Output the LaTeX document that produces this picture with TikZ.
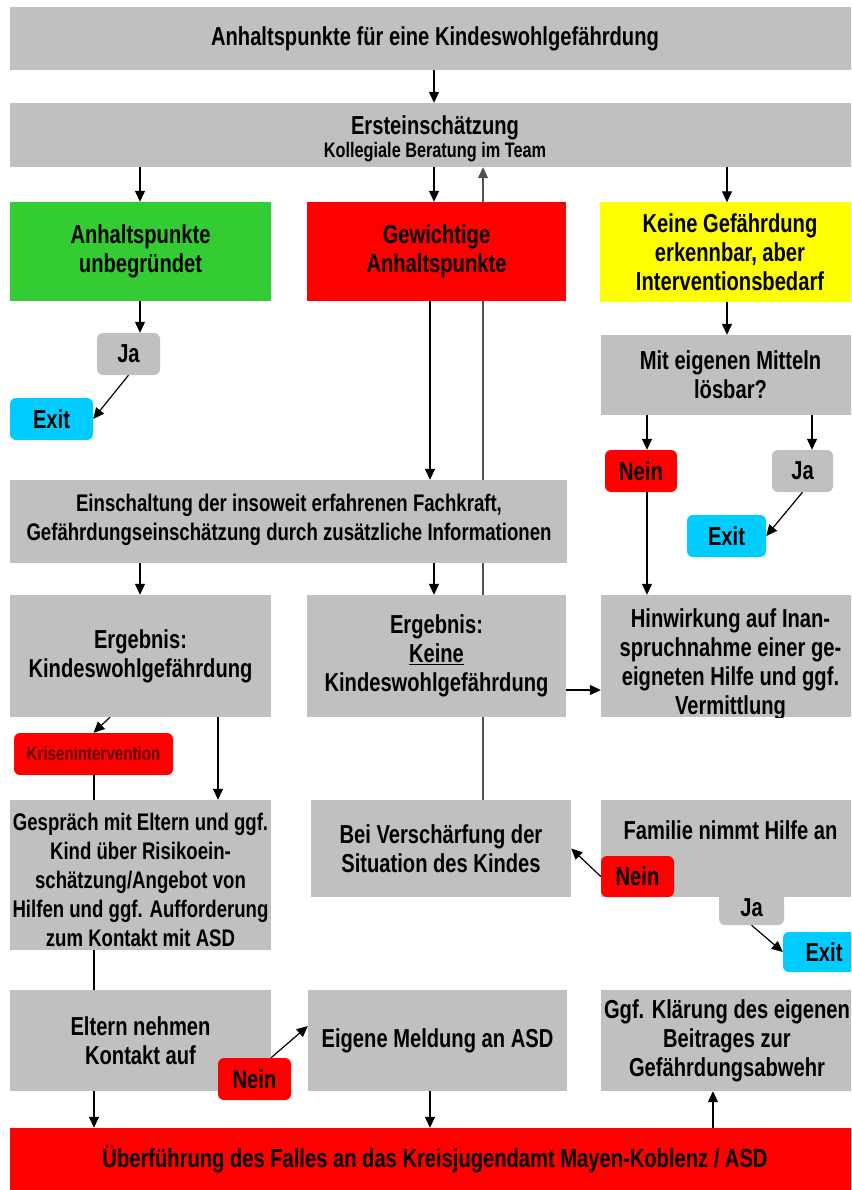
\documentclass[tikz,border=0pt]{standalone}
\usepackage{fontspec}
\setmainfont{Liberation Sans}[FakeStretch=0.775]
\usetikzlibrary{arrows.meta,backgrounds}
\definecolor{bgray}{HTML}{C0C0C0}
\definecolor{bgreen}{HTML}{33CC33}
\definecolor{bred}{HTML}{FF0000}
\definecolor{byellow}{HTML}{FFFF00}
\definecolor{bcyan}{HTML}{00CCFF}
\definecolor{kristext}{HTML}{5A0000}
\definecolor{upline}{HTML}{505050}
\begin{document}
\begin{tikzpicture}[x=1pt,y=-1pt,
  box/.style={fill=bgray, inner sep=0pt, align=center, text=black,
    font=\bfseries\fontsize{26}{29}\selectfont},
  rbox/.style={box, rounded corners=6pt},
  txt/.style={inner sep=0pt, align=center, text=black,
    font=\bfseries\fontsize{26}{29}\selectfont},
  smalltxt/.style={txt, font=\bfseries\fontsize{24}{29}\selectfont},
  arr/.style={-{Triangle[length=11pt,width=10pt]}, line width=1.2pt},
  ln/.style={line width=1.2pt},
]
\useasboundingbox (0,0) rectangle (851,1190);
\clip (0,0) rectangle (851,1190);
% helper coordinates
\foreach \v in {94,110,140,218,271,430,434,483,647,690,713,727,812,1026}{
  \coordinate (x\v) at (\v,0);
  \coordinate (y\v) at (0,\v);
}
% boxes
\node[box, minimum width=850, minimum height=63] (top) at (435,38.5) {Anhaltspunkte für eine Kindeswohlgefährdung};
\node[box, minimum width=850, minimum height=64] (erst) at (435,135) {};
\node[txt] (ersttext) at (435,139)
  {Ersteinschätzung\\[-6pt]{\fontsize{21}{24}\selectfont Kollegiale Beratung im Team}};
\node[box, fill=bgreen, minimum width=261, minimum height=99] (green) at (140.5,251.5) {Anhaltspunkte\\unbegründet};
\node[box, fill=bred, minimum width=259, minimum height=99] (redG) at (436.5,251.5) {Gewichtige\\Anhaltspunkte};
\node[box, fill=byellow, minimum width=260, minimum height=99] (yellow) at (730,252) {Keine Gefährdung\\erkennbar, aber\\Interventionsbedarf};
\node[rbox, minimum width=63, minimum height=42] (ja1) at (128.5,354) {Ja};
\node[rbox, fill=bcyan, minimum width=83, minimum height=42] (exit1) at (51.5,419) {Exit};
\node[box, minimum width=259, minimum height=80] (mit) at (730.5,375) {Mit eigenen Mitteln\\lösbar?};
\node[rbox, fill=bred, minimum width=72, minimum height=42] (nein1) at (641,471) {Nein};
\node[rbox, minimum width=61, minimum height=42] (ja2) at (802.5,471) {Ja};
\node[rbox, fill=bcyan, minimum width=79, minimum height=42] (exit2) at (726.5,536) {Exit};
\node[box, minimum width=557, minimum height=83] (einsch) at (288.5,521.5) {};
\node[smalltxt] (einschtext) at (289,520)
  {Einschaltung der insoweit erfahrenen Fachkraft,\\Gefährdungseinschätzung durch zusätzliche Informationen};
\node[box, minimum width=261, minimum height=122] (erg1) at (140.5,656) {Ergebnis:\\Kindeswohlgefährdung};
\node[box, minimum width=259, minimum height=122] (erg2) at (436.5,656) {Ergebnis:\\\underline{Keine}\\Kindeswohlgefährdung};
\begin{scope}
  \clip (601,595) rectangle (860,717);
  \node[box, minimum width=259, minimum height=122] (hinw) at (730.5,656) {};
  \node[txt] (hinwtext) at (730.5,664) {Hinwirkung auf Inan-\\spruchnahme einer ge-\\eigneten Hilfe und ggf.\\Vermittlung};
\end{scope}
\node[rbox, fill=bred, text=kristext, font=\bfseries\fontsize{19.5}{22}\selectfont, minimum width=159, minimum height=42] (kris) at (93.5,754) {Krisenintervention};
\node[box, minimum width=261, minimum height=150] (gespr) at (140.5,875) {};
\node[smalltxt] (gesprtext) at (140.5,880)
  {Gespräch mit Eltern und ggf.\\Kind über Risikoein-\\schätzung/Angebot von\\Hilfen und ggf. Aufforderung\\zum Kontakt mit ASD};
\node[box, minimum width=260, minimum height=97] (versch) at (441,848.5) {Bei Verschärfung der\\Situation des Kindes};
\node[rbox, minimum width=65, minimum height=36] (ja3) at (751.5,907) {};
\node[box, minimum width=259, minimum height=97] (fam) at (730.5,848.5) {};
\node[txt] (famtext) at (730.5,830) {Familie nimmt Hilfe an};
\node[txt] (ja3text) at (751.5,908) {Ja};
\node[rbox, fill=bred, minimum width=73, minimum height=41] (nein2) at (637.5,876.5) {Nein};
\node[rbox, fill=bcyan, minimum width=82, minimum height=40] (exit3) at (824,952) {Exit};
\node[box, minimum width=261, minimum height=101] (eltern) at (140.5,1040.5) {Eltern nehmen\\Kontakt auf};
\node[box, minimum width=259, minimum height=101] (eigene) at (437.5,1040.5) {Eigene Meldung an ASD};
\node[box, minimum width=259, minimum height=101] (klaer) at (730.5,1040.5) {};
\node[txt] (klaertext) at (727,1040.5) {Ggf. Klärung des eigenen\\Beitrages zur\\Gefährdungsabwehr};
\node[rbox, fill=bred, minimum width=73, minimum height=42] (nein3) at (254.5,1079) {Nein};
\node[box, fill=bred, minimum width=850, minimum height=62] (bottom) at (435,1159)
  {Überführung des Falles an das Kreisjugendamt Mayen-Koblenz / ASD};
% connectors
\begin{pgfonlayer}{background}
  \fill[white] (0,0) rectangle (851,1190);
  \draw[arr] (top.south -| x434) -- (erst.north -| x434);
  \draw[arr] (erst.south -| x140) -- (green.north -| x140);
  \draw[arr] (erst.south -| x434) -- (redG.north -| x434);
  \draw[arr] (erst.south -| x727) -- (yellow.north -| x727);
  \draw[arr, upline] (versch.north -| x483) -- (erst.south -| x483);
  \draw[arr] (redG.south -| x430) -- (einsch.north -| x430);
  \draw[arr] (green.south -| x140) -- (ja1.north -| x140);
  \draw[arr] (ja1.south) -- (exit1.east);
  \draw[arr] (yellow.south -| x727) -- (mit.north -| x727);
  \draw[arr] (mit.south -| x647) -- (nein1.north -| x647);
  \draw[arr] (mit.south -| x812) -- (ja2.north -| x812);
  \draw[arr] (ja2.south) -- (exit2.east);
  \draw[arr] (nein1.south -| x647) -- (hinw.north -| x647);
  \draw[arr] (einsch.south -| x140) -- (erg1.north -| x140);
  \draw[arr] (einsch.south -| x434) -- (erg2.north -| x434);
  \draw[arr] (erg2.east |- y690) -- (hinw.west |- y690);
  \draw[arr] (erg1.south -| x110) -- (kris.north);
  \draw[arr] (erg1.south -| x218) -- (gespr.north -| x218);
  \draw[ln] (kris.south -| x94) -- (gespr.north -| x94);
  \draw[ln] (gespr.south -| x94) -- (eltern.north -| x94);
  \draw[arr] (nein2.west) -- (versch.east);
  \draw[arr] (ja3.south) -- (exit3.west);
  \draw[arr] (nein3.north -| x271) -- (eigene.west |- y1026);
  \draw[arr] (eltern.south -| x94) -- (bottom.north -| x94);
  \draw[arr] (eigene.south -| x430) -- (bottom.north -| x430);
  \draw[arr] (bottom.north -| x713) -- (klaer.south -| x713);
\end{pgfonlayer}
\end{tikzpicture}
\end{document}
